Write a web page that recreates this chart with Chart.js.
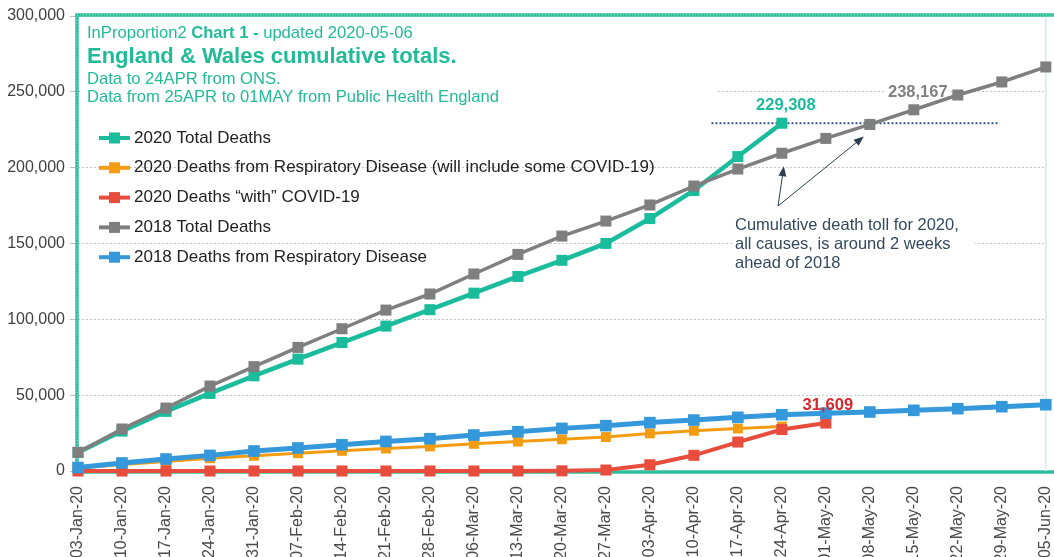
<!DOCTYPE html>
<html><head><meta charset="utf-8">
<script src="https://cdn.jsdelivr.net/npm/chart.js@4"></script>
<style>html,body{margin:0;padding:0;background:#fff;overflow:hidden}#wrap{position:relative;width:1054px;height:557px}</style>
</head><body><div id="wrap"><canvas id="c"></canvas></div>
<script>
const categories = ['03-Jan-20','10-Jan-20','17-Jan-20','24-Jan-20','31-Jan-20','07-Feb-20','14-Feb-20','21-Feb-20','28-Feb-20','06-Mar-20','13-Mar-20','20-Mar-20','27-Mar-20','03-Apr-20','10-Apr-20','17-Apr-20','24-Apr-20','01-May-20','08-May-20','15-May-20','22-May-20','29-May-20','05-Jun-20'];
const total2020 = [12254,26312,39302,51158,62770,73756,84700,95541,106357,117252,128271,138916,150057,166444,184960,207311,229308];
const resp2020 = [2000,4300,6300,8400,10000,11700,13300,14800,16200,17900,19400,20900,22400,24800,26500,28000,29300];
const covid2020 = [0,0,0,0,0,0,0,0,0,0,5,108,647,4122,10335,19093,27330,31609];
const total2018 = [12300,27700,41500,56000,68800,81500,93800,106100,116700,129900,142800,154900,164800,175400,187900,199100,209500,219300,228500,238167,247900,256500,266400];
const resp2018 = [2300,5300,7900,10300,13200,15200,17300,19500,21300,23700,25900,28100,29900,31900,33600,35400,37100,38100,38900,40000,41100,42400,43700];
const yTicks = [0,50000,100000,150000,200000,250000,300000];
const seriesNames = ['2020 Total Deaths','2020 Deaths from Respiratory Disease (will include some COVID-19)','2020 Deaths \u201cwith\u201d COVID-19','2018 Total Deaths','2018 Deaths from Respiratory Disease'];
const seriesColors = ['#1abc9c','#f39c12','#e74c3c','#7f7f7f','#3498db'];
const noteLines = ['Cumulative death toll for 2020,','all causes, is around 2 weeks','ahead of 2018'];
const FF = "'Liberation Sans', Arial, sans-serif";
Chart.defaults.font.family = FF;

function ds(i, data, width, r, order){
  return {label:seriesNames[i], data:data, borderColor:seriesColors[i], backgroundColor:seriesColors[i],
    borderWidth:width, pointStyle:'rect', pointRadius:r, pointBorderWidth:0, pointBackgroundColor:seriesColors[i],
    tension:0, order:order, clip:false};
}

// value labels: [dataset index, point index, colour, dx, dy, white background]
const valueLabels = [
  [0, total2020.length-1, '#1abc9c', 4, -18, true],
  [3, 19, '#808080', 4, -17, true],
  [2, covid2020.length-1, '#d9262c', 2, -18, false]
];
const LABEL_FONT = 'bold 16.5px ' + FF;

const decor = {
  id:'decor',
  beforeDatasetsDraw(chart){
    const {ctx, chartArea:a, scales:{x,y}} = chart;
    ctx.save();
    ctx.fillStyle = '#fff';
    ctx.fillRect(a.left+2, a.top+2, 636, 90);
    ctx.fillRect(a.left+655, 208, 242, 66);
    ctx.font = LABEL_FONT;
    for (const [dsi, idx, , dx, dy, bg] of valueLabels){
      if (!bg) continue;
      const p = chart.getDatasetMeta(dsi).data[idx];
      const t = chart.data.datasets[dsi].data[idx].toLocaleString('en-US');
      const w = ctx.measureText(t).width;
      ctx.fillRect(p.x+dx-w/2-2, p.y+dy-9, w+4, 18);
    }
    // frame
    ctx.strokeStyle = '#2fbf9d';
    ctx.lineWidth = 3.5;
    ctx.beginPath();
    ctx.moveTo(chart.width+5, a.top-1);
    ctx.lineTo(a.left-1, a.top-1);
    ctx.lineTo(a.left-1, a.bottom+1);
    ctx.lineTo(chart.width+5, a.bottom+1);
    ctx.stroke();
    ctx.strokeStyle = 'rgba(255,255,255,0.45)';
    ctx.lineWidth = 1;
    ctx.setLineDash([1,2]);
    ctx.beginPath();
    ctx.moveTo(chart.width+5, a.top-1);
    ctx.lineTo(a.left-1, a.top-1);
    ctx.lineTo(a.left-1, a.bottom+1);
    ctx.stroke();
    ctx.setLineDash([]);
    ctx.strokeStyle = '#cdeff7';
    ctx.lineWidth = 1.5;
    ctx.beginPath(); ctx.moveTo(a.right, a.top+1); ctx.lineTo(a.right, a.bottom); ctx.stroke();
    // dotted reference line at latest 2020 total
    const yy = y.getPixelForValue(total2020[total2020.length-1]);
    ctx.strokeStyle = '#34578a';
    ctx.lineWidth = 2;
    ctx.setLineDash([2,2]);
    ctx.beginPath(); ctx.moveTo(x.getPixelForValue(14.4), yy); ctx.lineTo(x.getPixelForValue(20.95), yy); ctx.stroke();
    ctx.restore();
  },
  afterDatasetsDraw(chart){
    const {ctx, chartArea:a} = chart;
    ctx.save();
    ctx.textBaseline = 'middle';
    ctx.textAlign = 'left';
    // title block
    const tx = a.left + 9;
    ctx.fillStyle = '#22bb98';
    let cx = tx;
    const segs = [['InProportion2 ', 'normal'], ['Chart 1 -', 'bold'], [' updated 2020-05-06', 'normal']];
    for (const [t, w] of segs){ ctx.font = w + ' 16.6px ' + FF; ctx.fillText(t, cx, a.top+17); cx += ctx.measureText(t).width; }
    ctx.font = 'bold 22px ' + FF;
    ctx.fillText('England & Wales cumulative totals.', tx, a.top+41);
    ctx.font = '16.6px ' + FF;
    ctx.fillText('Data to 24APR from ONS.', tx, a.top+63);
    ctx.fillText('Data from 25APR to 01MAY from Public Health England', tx, a.top+81);
    // legend
    chart.data.datasets.forEach((d, i) => {
      const ly = a.top + 122 + i*29.8;
      ctx.strokeStyle = d.borderColor; ctx.lineWidth = 4;
      ctx.beginPath(); ctx.moveTo(a.left+21, ly); ctx.lineTo(a.left+52, ly); ctx.stroke();
      ctx.fillStyle = d.borderColor; ctx.fillRect(a.left+31, ly-5.5, 11, 11);
      ctx.fillStyle = '#222'; ctx.font = '17px ' + FF;
      ctx.fillText(d.label, a.left+56, ly);
    });
    // note
    const nx = a.left + 657;
    ctx.fillStyle = '#34495e';
    ctx.font = '16.5px ' + FF;
    noteLines.forEach((t, i) => ctx.fillText(t, nx, 225 + i*19));
    // arrows
    const g = chart.getDatasetMeta(3).data;
    const ox = nx + 43, oy = 206;
    const targets = [[g[16].x + 2, g[16].y + 13], [g[18].x - 6, g[18].y + 12]];
    ctx.strokeStyle = '#2c3e50'; ctx.fillStyle = '#2c3e50'; ctx.lineWidth = 1;
    for (const [txx, tyy] of targets){
      const ang = Math.atan2(tyy-oy, txx-ox);
      ctx.beginPath(); ctx.moveTo(ox, oy); ctx.lineTo(txx - 8*Math.cos(ang), tyy - 8*Math.sin(ang)); ctx.stroke();
      ctx.beginPath();
      ctx.moveTo(txx, tyy);
      ctx.lineTo(txx - 10*Math.cos(ang) + 4*Math.sin(ang), tyy - 10*Math.sin(ang) - 4*Math.cos(ang));
      ctx.lineTo(txx - 10*Math.cos(ang) - 4*Math.sin(ang), tyy - 10*Math.sin(ang) + 4*Math.cos(ang));
      ctx.closePath(); ctx.fill();
    }
    // data labels
    ctx.textAlign = 'center';
    ctx.font = LABEL_FONT;
    for (const [dsi, idx, color, dx, dy] of valueLabels){
      const p = chart.getDatasetMeta(dsi).data[idx];
      const t = chart.data.datasets[dsi].data[idx].toLocaleString('en-US');
      ctx.fillStyle = color;
      ctx.fillText(t, p.x+dx, p.y+dy);
    }
    ctx.restore();
  }
};

new Chart(document.getElementById('c'), {
  type:'line',
  data:{
    labels:categories,
    datasets:[
      ds(0, total2020, 4.5, 7.8, 4),
      ds(1, resp2020, 3, 7, 5),
      ds(2, covid2020, 4, 7.8, 3),
      ds(3, total2018, 3.5, 7.8, 1),
      ds(4, resp2018, 5, 8.2, 2)
    ]
  },
  options:{
    responsive:true, maintainAspectRatio:false, animation:false, devicePixelRatio:1,
    layout:{padding:{top:16, right:3, left:0, bottom:0}},
    plugins:{legend:{display:false}, tooltip:{enabled:false}},
    scales:{
      x:{
        type:'category', offset:false,
        grid:{display:false, drawTicks:false},
        border:{display:false},
        ticks:{autoSkip:false, maxRotation:90, minRotation:90, padding:15, color:'#4a4a4a', font:{size:16, family:FF}},
        afterFit(s){ s.height = 86; s.paddingLeft = 0; s.paddingRight = 0; }
      },
      y:{
        min:0, max:300000,
        afterBuildTicks(s){ s.ticks = yTicks.map(v => ({value:v})); },
        ticks:{padding:5, color:'#404040', font:{size:16, family:FF}, callback:(v)=>v.toLocaleString('en-US')},
        grid:{color:'#c4c4c4', lineWidth:1, tickLength:8, tickColor:'#bdbdbd', drawTicks:true},
        border:{display:false, dash:[2,2]},
        afterFit(s){ s.width = 78; s.paddingTop = 0; s.paddingBottom = 0; }
      }
    }
  },
  plugins:[decor]
});
</script>
</body></html>
